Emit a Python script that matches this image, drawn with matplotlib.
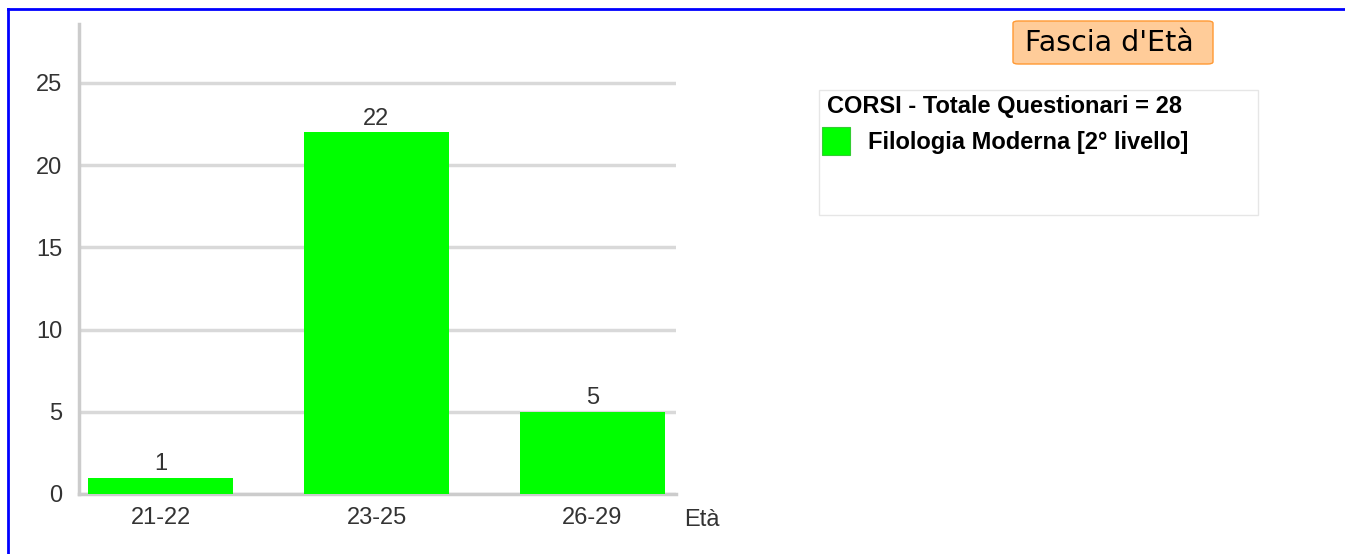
import matplotlib.pyplot as plt
from matplotlib.patches import Rectangle, FancyBboxPatch

categories = ['21-22', '23-25', '26-29']
values = [1, 22, 5]
yticks = [0, 5, 10, 15, 20, 25]
title = "Fascia d'Età"
legend_title = 'CORSI - Totale Questionari = 28'
series_name = 'Filologia Moderna [2° livello]'

W, H = 1345, 554
fig = plt.figure(figsize=(W / 100, H / 100), dpi=100)
plt.rcParams['font.family'] = ['Liberation Sans', 'DejaVu Sans']


def fx(px):
    return px / W


def fy(py):
    return 1 - py / H


# plot area: x 79..676, y 24..494
ax = fig.add_axes([fx(79), fy(494), fx(676) - fx(79), fy(24) - fy(494)])
x = list(range(len(categories)))
ax.bar(x, values, width=145 / 216, color='#00ff00', zorder=3)
for xi, v in zip(x, values):
    ax.text(xi, v + 0.15, str(v), ha='center', va='bottom', fontsize=17, color='#333333')

ax.set_xlim((79 - 160.5) / 216, (676 - 160.5) / 216)
ax.set_ylim(0, 470 / 16.44)
ax.set_yticks(yticks)
ax.set_xticks(x)
ax.set_xticklabels(categories)
ax.tick_params(axis='both', length=0, labelsize=17, colors='#333333')
ax.tick_params(axis='y', pad=12)
ax.tick_params(axis='x', pad=9)
ax.grid(axis='y', color='#d9d9d9', linewidth=2.5, zorder=0)
for s in ['top', 'right']:
    ax.spines[s].set_visible(False)
for s in ['left', 'bottom']:
    ax.spines[s].set_color('#cccccc')
    ax.spines[s].set_linewidth(2.5)
fig.text(fx(684), fy(520), 'Età', ha='left', va='center', fontsize=17, color='#333333')

# blue border (top and left)
fig.add_artist(plt.Line2D([fx(8), 1], [fy(8.5), fy(8.5)], color='#0000ff', linewidth=2))
fig.add_artist(plt.Line2D([fx(8), fx(8)], [fy(8.5), 0], color='#0000ff', linewidth=2))

# title box
fig.add_artist(FancyBboxPatch((fx(1013), fy(64)), fx(200), 43 / H,
                              boxstyle='round,pad=0,rounding_size=0.004',
                              facecolor='#ffcc99', edgecolor='#ff9933', linewidth=1))
fig.text(fx(1109), fy(43), title, ha='center', va='center', fontsize=20.5,
         family='DejaVu Sans', color='black')

# legend box
fig.add_artist(Rectangle((fx(819), fy(215)), fx(439), 125 / H,
                         facecolor='white', edgecolor='#e6e6e6', linewidth=1))
fig.text(fx(827), fy(107), legend_title, ha='left', va='center', fontsize=17,
         fontweight='bold', color='black')
fig.add_artist(Rectangle((fx(822), fy(155)), fx(28), 28 / H,
                         facecolor='#00ff00', edgecolor='#33cc33', linewidth=0.8))
fig.text(fx(868), fy(142), series_name, ha='left', va='center', fontsize=17,
         fontweight='bold', color='black')

fig.savefig('out.png', dpi=100)
